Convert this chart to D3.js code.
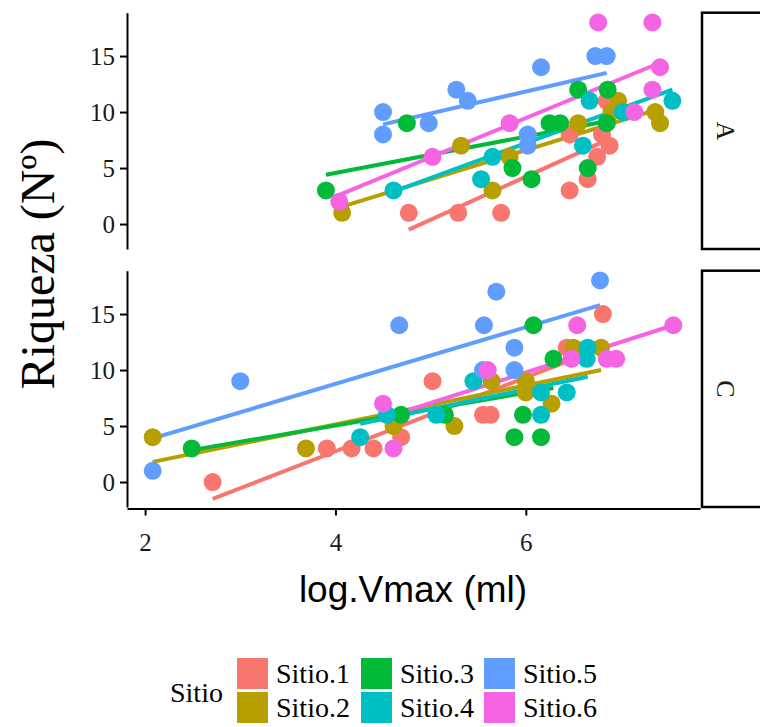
<!DOCTYPE html>
<html>
<head>
<meta charset="utf-8">
<script src="https://cdn.jsdelivr.net/npm/d3@7"></script>
<style>
  body { margin: 0; background: #fff; }
  svg { display: block; }
</style>
</head>
<body>
<div id="chart"></div>
<script>
// sitios y colores (paleta por defecto de ggplot)
const sitios = ["Sitio.1", "Sitio.2", "Sitio.3", "Sitio.4", "Sitio.5", "Sitio.6"]
const colores = ["#F8766D", "#B79F00", "#00BA38", "#00BFC4", "#619CFF", "#F564E3"]
const paneles = ["A", "C"]
const xTicks = [2, 4, 6]
const yTicks = [0, 5, 10, 15]

// puntos [log.Vmax, riqueza] por sitio, panel A
const puntosA = [
    [[4.77, 1], [5.29, 1], [5.74, 1], [6.46, 3], [6.65, 4], [6.75, 6], [6.8, 8], [6.88, 7], [6.85, 11], [6.46, 8]],
    [[4.07, 1], [5.32, 7], [5.65, 3], [5.83, 6], [6.55, 9], [6.97, 11], [6.9, 10], [7.36, 10], [7.41, 9]],
    [[3.9, 3], [4.75, 9], [6.55, 12], [6.86, 12], [6.25, 9], [6.36, 9], [6.85, 9], [5.86, 5], [6.06, 4], [6.65, 5]],
    [[4.61, 3], [5.53, 4], [5.65, 6], [6.6, 7], [6.67, 11], [7.02, 10], [7.54, 11]],
    [[4.5, 10], [4.5, 8], [4.98, 9], [5.27, 12], [5.39, 11], [6.02, 8], [6.02, 7], [6.16, 14], [6.73, 15], [6.85, 15]],
    [[4.04, 2], [5.02, 6], [5.83, 9], [6.76, 18], [7.33, 18], [7.41, 14], [7.33, 12], [7.14, 10]]
]
// puntos por sitio, panel C
const puntosC = [
    [[2.71, 0], [3.91, 3], [4.17, 3], [4.4, 3], [4.69, 4], [5.02, 9], [5.55, 6], [5.63, 6], [6.43, 12], [6.81, 15]],
    [[2.08, 4], [3.69, 3], [4.61, 5], [5.25, 5], [5.64, 9], [6.0, 9], [6.0, 8], [6.27, 7], [6.5, 12], [6.79, 12]],
    [[2.49, 3], [4.69, 6], [5.15, 6], [5.97, 6], [5.88, 4], [6.16, 4], [6.29, 11], [6.08, 14]],
    [[4.26, 4], [4.54, 6], [5.06, 6], [5.45, 9], [6.16, 8], [6.43, 8], [6.16, 6], [6.65, 12], [6.64, 11]],
    [[2.08, 1], [3.0, 9], [4.67, 14], [5.56, 14], [5.69, 17], [6.78, 18], [5.88, 12], [5.55, 10], [5.88, 10]],
    [[4.5, 7], [4.61, 3], [5.6, 10], [6.54, 14], [7.55, 14], [6.48, 11], [6.85, 11], [6.95, 11]]
]

// rectas de ajuste [x0, y0, x1, y1]
const lineasA = [
    [4.77, -0.5, 6.88, 7.6],
    [4.07, 1.55, 7.41, 10.3],
    [3.9, 4.4, 6.86, 9.2],
    [4.61, 2.9, 7.54, 12.0],
    [4.5, 8.9, 6.85, 13.5],
    [4.04, 2.6, 7.41, 14.4]
]
const lineasC = [
    [2.71, -1.5, 6.81, 12.0],
    [2.08, 1.8, 6.79, 10.0],
    [2.49, 2.85, 6.29, 8.4],
    [4.26, 5.2, 6.65, 9.4],
    [2.08, 3.9, 6.78, 15.8],
    [4.5, 5.7, 7.55, 14.0]
]

const width = 760
const height = 727

const svg = d3.select('#chart').append('svg')
    .attr('width', width).attr('height', height)

//schaal x
const x = d3.scaleLinear().domain([1.81, 7.83]).range([127, 700])

const panelTops = [12.7, 270.7]
const panelHeight = 236.3

const datos = [
    { nombre: paneles[0], puntos: puntosA, lineas: lineasA },
    { nombre: paneles[1], puntos: puntosC, lineas: lineasC }
]

datos.forEach((p, i) => {
    const top = panelTops[i]
    const y = d3.scaleLinear().domain([-2.23, 18.87]).range([top + panelHeight, top])
    const g = svg.append('g')

    // rectas
    p.lineas.forEach((l, s) => {
        g.append('line')
            .attr('x1', x(l[0])).attr('y1', y(l[1]))
            .attr('x2', x(l[2])).attr('y2', y(l[3]))
            .attr('stroke', colores[s]).attr('stroke-width', 4)
    })

    // puntos
    p.puntos.forEach((pts, s) => {
        g.selectAll(null).data(pts).enter().append('circle')
            .attr('cx', d => x(d[0]))
            .attr('cy', d => y(d[1]))
            .attr('r', 9)
            .attr('fill', colores[s])
    })

    // eje y
    const ay = svg.append('g')
        .attr('transform', `translate(127,0)`)
        .call(d3.axisLeft(y).tickValues(yTicks).tickSize(7).tickSizeOuter(0).tickPadding(5))
    ay.select('.domain').attr('stroke', '#000').attr('stroke-width', 2)
    ay.selectAll('.tick line').attr('stroke', '#000').attr('stroke-width', 2)
    ay.selectAll('.tick text')
        .attr('font-family', '"Liberation Serif", serif')
        .attr('font-size', 25).attr('fill', '#1a1a1a')

    // strip
    svg.append('rect')
        .attr('x', 702).attr('y', top)
        .attr('width', 80).attr('height', panelHeight)
        .attr('fill', '#fff').attr('stroke', '#000').attr('stroke-width', 2.5)
    svg.append('text')
        .attr('transform', `translate(726,${top + panelHeight / 2}) rotate(90)`)
        .attr('text-anchor', 'middle').attr('dy', '0.35em')
        .attr('font-family', '"Liberation Serif", serif')
        .attr('font-size', 26).attr('fill', '#1a1a1a')
        .text(p.nombre)
})

// eje x
const ax = svg.append('g')
    .attr('transform', `translate(0,${panelTops[1] + panelHeight + 1.5})`)
    .call(d3.axisBottom(x).tickValues(xTicks).tickFormat(d3.format('d'))
        .tickSize(7).tickSizeOuter(0).tickPadding(18))
ax.select('.domain').attr('stroke', '#000').attr('stroke-width', 2)
ax.selectAll('.tick line').attr('stroke', '#000').attr('stroke-width', 2)
ax.selectAll('.tick text')
    .attr('font-family', '"Liberation Serif", serif')
    .attr('font-size', 25).attr('fill', '#1a1a1a')

// titulos
svg.append('text')
    .attr('x', 413).attr('y', 602)
    .attr('text-anchor', 'middle')
    .attr('font-family', '"Liberation Sans", Arial, sans-serif')
    .attr('font-size', 37).attr('fill', '#000')
    .text('log.Vmax (ml)')
svg.append('text')
    .attr('transform', 'translate(54,264) rotate(-90)')
    .attr('text-anchor', 'middle')
    .attr('font-family', '"Liberation Serif", serif')
    .attr('font-size', 48).attr('fill', '#000')
    .text('Riqueza (Nº)')

// leyenda
const leg = svg.append('g')
leg.append('text')
    .attr('x', 170).attr('y', 702)
    .attr('font-family', '"Liberation Serif", serif')
    .attr('font-size', 28).attr('fill', '#000')
    .text('Sitio')
const colX = [237, 361, 484]
const rowY = [658, 692]
sitios.forEach((s, i) => {
    const col = Math.floor(i / 2)
    const row = i % 2
    leg.append('rect')
        .attr('x', colX[col]).attr('y', rowY[row])
        .attr('width', 31).attr('height', 31)
        .attr('fill', colores[i])
    leg.append('text')
        .attr('x', colX[col] + 39).attr('y', rowY[row] + 25)
        .attr('font-family', '"Liberation Serif", serif')
        .attr('font-size', 28).attr('fill', '#000')
        .text(s)
})
</script>
</body>
</html>
